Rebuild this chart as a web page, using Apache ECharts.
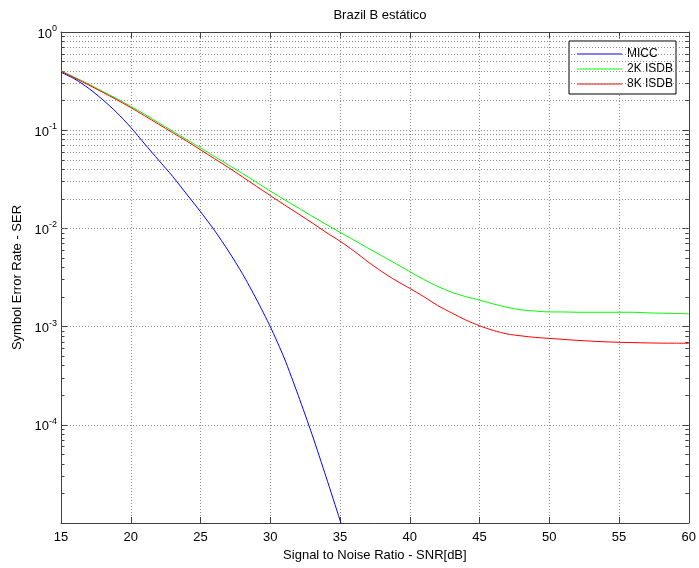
<!DOCTYPE html>
<html>
<head>
<meta charset="utf-8">
<script src="https://cdn.jsdelivr.net/npm/echarts@6/dist/echarts.min.js"></script>
<style>html,body{margin:0;padding:0;background:#fff;}#c{width:699px;height:568px;}</style>
</head>
<body>
<div id="c"></div>
<script>
const FONT = 'Liberation Sans, Arial, Helvetica, sans-serif';
const titleText = 'Brazil B estático';
const xName = 'Signal to Noise Ratio - SNR[dB]';
const yName = 'Symbol Error Rate - SER';
const seriesNames = ['MICC', '2K ISDB', '8K ISDB'];
const xTicks = [15, 20, 25, 30, 35, 40, 45, 50, 55, 60];

const snrMicc = [15,16,17,18,19,20,21,22,23,24,25,26,27,28,29,30,31,32,33,34,35,36];
const serMicc = [0.389,0.331,0.266,0.204,0.151,0.107,0.0724,0.0495,0.0339,0.0224,0.0148,0.00955,0.00589,0.00347,0.00191,0.00100,0.000479,0.000200,0.0000794,0.0000295,0.0000107,0.0000040];

const snr = [15,16,17,18,19,20,21,22,23,24,25,26,27,28,29,30,31,32,33,34,35,36,37,38,39,40,41,42,43,44,45,46,47,48,49,50,51,52,53,54,55,56,57,58,59,60];
const ser2k = [0.404,0.345,0.294,0.248,0.209,0.175,0.145,0.119,0.0977,0.0804,0.0661,0.0540,0.0442,0.0363,0.0295,0.0240,0.0197,0.0162,0.0133,0.0110,0.00912,0.00759,0.00631,0.00525,0.00437,0.00363,0.00302,0.00257,0.00224,0.00202,0.00186,0.00170,0.00157,0.00148,0.00144,0.00141,0.00141,0.00140,0.00140,0.00140,0.00140,0.00140,0.00138,0.00137,0.00136,0.00135];
const ser8k = [0.398,0.339,0.288,0.243,0.204,0.170,0.140,0.115,0.0944,0.0776,0.0631,0.0513,0.0417,0.0335,0.0269,0.0216,0.0174,0.0141,0.0114,0.00912,0.00741,0.00589,0.00457,0.00363,0.00295,0.00245,0.00202,0.00164,0.00138,0.00117,0.00102,0.000912,0.000841,0.000804,0.000776,0.000759,0.000741,0.000724,0.000711,0.000700,0.000692,0.000687,0.000682,0.000679,0.000678,0.000676];

const yMin = 1e-5, yMax = 1, xMin = 15, xMax = 60;

// minor log gridlines (2..9 x 10^e)
const minorVals = [];
for (let e = -5; e < 0; e++) for (let k = 2; k <= 9; k++) minorVals.push(k * Math.pow(10, e));

const gridLine = { color: '#8c8c8c', type: [1, 2], width: 1 };
const axisLineStyle = { color: '#404040', width: 1 };

const chart = echarts.init(document.getElementById('c'), null, { renderer: 'canvas' });

const minorMark = {
  silent: true, symbol: ['none', 'none'], label: { show: false },
  lineStyle: gridLine, animation: false,
  data: minorVals.map(v => ({ yAxis: v }))
};
const minorTickMark = {
  silent: true, symbol: ['none', 'none'], label: { show: false },
  lineStyle: { color: '#404040', type: 'solid', width: 1 }, animation: false,
  data: minorVals.map(v => [{ coord: [xMin, v] }, { coord: [xMin + 0.25, v] }])
    .concat(minorVals.map(v => [{ coord: [xMax - 0.25, v] }, { coord: [xMax, v] }]))
};

chart.setOption({
  animation: false,
  backgroundColor: '#fff',
  title: {
    text: titleText, left: 375, top: 4, textAlign: 'center',
    textStyle: { fontFamily: FONT, fontSize: 13, fontWeight: 'normal', color: '#000' }
  },
  legend: {
    orient: 'vertical', left: 569, top: 41,
    data: seriesNames,
    backgroundColor: '#fff', borderColor: '#000', borderWidth: 1,
    padding: [6, 3, 3, 8], itemGap: 1, itemWidth: 45, itemHeight: 1,
    icon: 'rect',
    textStyle: { fontFamily: FONT, fontSize: 12, color: '#000', lineHeight: 14 }
  },
  grid: { left: 61, right: 10, top: 32, bottom: 45, containLabel: false },
  xAxis: [{
    type: 'value', min: xMin, max: xMax, interval: 5,
    name: xName, nameLocation: 'middle', nameGap: 16,
    nameTextStyle: { fontFamily: FONT, fontSize: 13, color: '#000' },
    axisLine: { show: true, lineStyle: axisLineStyle },
    axisTick: { show: true, inside: true, length: 6, lineStyle: axisLineStyle },
    axisLabel: { margin: 8, fontFamily: FONT, fontSize: 13, color: '#000',
      formatter: v => xTicks.indexOf(v) >= 0 ? String(v) : '' },
    splitLine: { show: true, lineStyle: gridLine }
  }, {
    type: 'value', min: xMin, max: xMax, interval: 5, position: 'top',
    axisLine: { show: true, lineStyle: axisLineStyle },
    axisTick: { show: true, inside: true, length: 6, lineStyle: axisLineStyle },
    axisLabel: { show: false }, splitLine: { show: false }
  }],
  yAxis: [{
    type: 'log', logBase: 10, min: yMin, max: yMax,
    name: yName, nameLocation: 'middle', nameGap: 34,
    nameTextStyle: { fontFamily: FONT, fontSize: 13, color: '#000' },
    axisLine: { show: true, lineStyle: axisLineStyle },
    axisTick: { show: true, inside: true, length: 6, lineStyle: axisLineStyle },
    axisLabel: {
      margin: 4,
      padding: [4, 0, 0, 0],
      formatter: v => {
        const e = Math.round(Math.log10(v));
        if (e === -5) return '';
        return '{b|10}{s|' + e + '}';
      },
      rich: {
        b: { fontFamily: FONT, fontSize: 13, color: '#000', lineHeight: 20, verticalAlign: 'middle' },
        s: { fontFamily: FONT, fontSize: 9, color: '#000', lineHeight: 10, verticalAlign: 'top' }
      }
    },
    splitLine: { show: true, lineStyle: gridLine }
  }, {
    type: 'log', logBase: 10, min: yMin, max: yMax, position: 'right',
    axisLine: { show: true, lineStyle: axisLineStyle },
    axisTick: { show: true, inside: true, length: 6, lineStyle: axisLineStyle },
    axisLabel: { show: false }, splitLine: { show: false }
  }],
  series: [{
    name: seriesNames[0], type: 'line', xAxisIndex: 0, yAxisIndex: 0,
    data: snrMicc.map((x, i) => [x, serMicc[i]]),
    showSymbol: false, symbol: 'none', smooth: 0.25,
    lineStyle: { color: '#0000ff', width: 1 }, itemStyle: { color: '#0000ff' },
    clip: true, z: 5
  }, {
    name: seriesNames[1], type: 'line', xAxisIndex: 0, yAxisIndex: 0,
    data: snr.map((x, i) => [x, ser2k[i]]),
    showSymbol: false, symbol: 'none', smooth: 0.3,
    lineStyle: { color: '#00ff00', width: 1 }, itemStyle: { color: '#00ff00' },
    clip: true, z: 5
  }, {
    name: seriesNames[2], type: 'line', xAxisIndex: 0, yAxisIndex: 0,
    data: snr.map((x, i) => [x, ser8k[i]]),
    showSymbol: false, symbol: 'none', smooth: 0.3,
    lineStyle: { color: '#ff0000', width: 1 }, itemStyle: { color: '#ff0000' },
    clip: true, z: 5
  }, {
    name: '_grid', type: 'line', xAxisIndex: 0, yAxisIndex: 0,
    data: [], showSymbol: false, silent: true, z: 1,
    markLine: minorMark
  }, {
    name: '_ticks', type: 'line', xAxisIndex: 0, yAxisIndex: 0,
    data: [], showSymbol: false, silent: true, z: 2,
    markLine: minorTickMark
  }]
});
</script>
</body>
</html>
